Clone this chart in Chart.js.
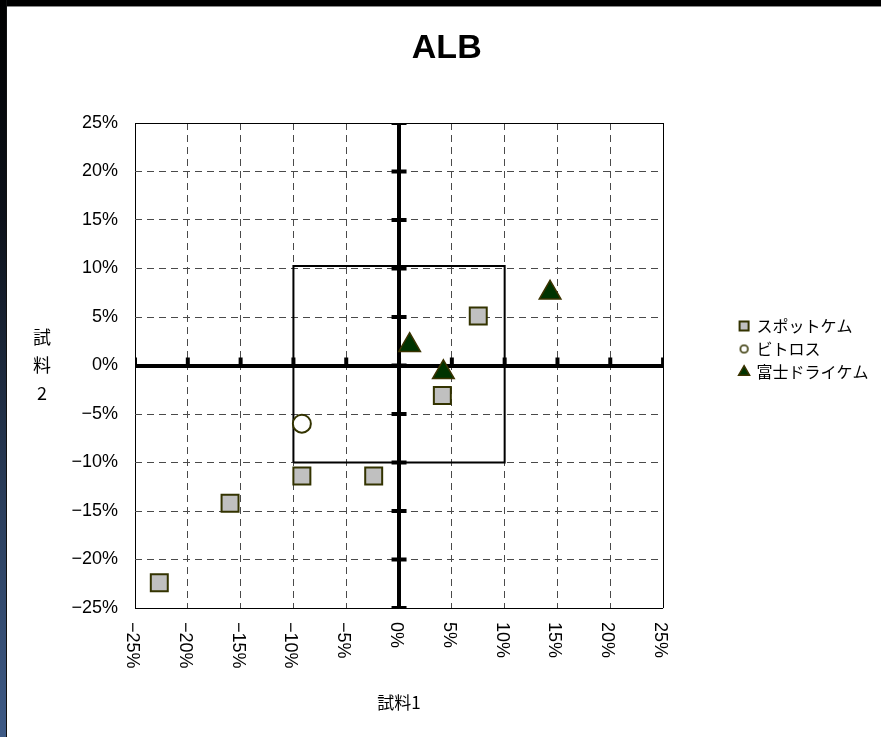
<!DOCTYPE html>
<html><head><meta charset="utf-8">
<script src="https://cdn.jsdelivr.net/npm/chart.js@4"></script>
<style>
html,body{margin:0;padding:0;background:#fff;}
#wrap{position:relative;width:881px;height:737px;overflow:hidden;background:#fff;}
#c{position:absolute;left:0;top:0;}
#topbar{position:absolute;left:0;top:0;width:881px;height:6px;background:#000;border-bottom:1px solid #8a8a8a;}
#leftbar{position:absolute;left:0;top:0;width:6px;height:737px;background:linear-gradient(#000 0%,#0d121b 30%,#2b3f5e 70%,#3e5a86 100%);border-right:1px solid #111;}
</style></head>
<body><div id="wrap"><canvas id="c" width="881" height="737"></canvas><div id="topbar"></div><div id="leftbar"></div></div>
<script>
// ---- data ----
const chartTitle = 'ALB';
const seriesNames = ['スポットケム', 'ビトロス', '富士ドライケム'];
const spotX = [7.5, 4.1, -9.2, -2.4, -16.0, -22.7];
const spotY = [5.1, -3.1, -11.4, -11.4, -14.2, -22.4];
const vitrosX = [-9.2];
const vitrosY = [-6.0];
const fujiX = [1.0, 4.2, 14.3];
const fujiY = [2.1, -0.7, 7.5];
const tickValues = [-25, -20, -15, -10, -5, 0, 5, 10, 15, 20, 25];
const tickLabels = ['−25%', '−20%', '−15%', '−10%', '−5%', '0%', '5%', '10%', '15%', '20%', '25%'];
const boxX = [-10, 10, 10, -10, -10];
const boxY = [-10, -10, 10.25, 10.25, -10];
const xTitle = '試料1';
const yTitleLines = ['試', '料', '2'];

// ---- styling / layout ----
const JP = '"Noto Sans CJK JP", "Liberation Sans", sans-serif';
const LAT = '"Liberation Sans", "Noto Sans CJK JP", sans-serif';
const tickFontSize = 18;
const legendFontSize = 16;
const legendBox = 9;
const legendPad = 7;
const area = {left: 135, right: 663, top: 123, bottom: 608};
const padLeft = 18;
const legendLeft = 729.5;
const legendFirstRowTop = 318;
const legendWidthCorr = 3;

const pts = (xs, ys) => xs.map((x, i) => ({x, y: ys[i]}));

// measure legend width like Chart.js does, to place it
const mctx = document.createElement('canvas').getContext('2d');
mctx.font = legendFontSize + 'px ' + JP;
const maxText = Math.max(...seriesNames.map(s => mctx.measureText(s).width));
const legendW = legendPad + legendBox + legendFontSize / 2 + maxText + 10;
const padRight = Math.max(0, 881 - legendLeft - legendW);
const gapAxisW = (881 - padRight - legendW + legendWidthCorr) - area.right;
const legendTitleFont = 10;
const legendTitlePadTop = legendFirstRowTop - legendPad - legendTitleFont * 1.2;

// small legend circle marker
const legendCircle = document.createElement('canvas');
legendCircle.width = 11; legendCircle.height = 11;
(() => {
  const c = legendCircle.getContext('2d');
  c.beginPath(); c.arc(5.5, 5.5, 3.8, 0, Math.PI * 2);
  c.fillStyle = '#fff'; c.fill();
  c.lineWidth = 1.6; c.strokeStyle = '#333300'; c.stroke();
})();

const isEdge = v => v === 0 || Math.abs(v) === 25;
const gridCommon = {
  color: c => (c.tick && isEdge(c.tick.value)) ? '#000' : '#4a4a4a',
  lineWidth: c => (c.tick && c.tick.value === 0) ? 4 : 1,
  drawTicks: false
};
const borderCommon = {
  display: false,
  dash: c => (c.tick && isEdge(c.tick.value)) ? [] : [7, 5]
};

const extraText = {
  id: 'extraText',
  afterDraw(chart) {
    const {ctx, chartArea, scales} = chart;
    ctx.save();
    ctx.fillStyle = '#000';
    ctx.font = tickFontSize + 'px ' + LAT;
    const xs = scales.x;
    xs.ticks.forEach((t, i) => {
      const px = xs.getPixelForValue(t.value);
      ctx.save();
      ctx.translate(px - 3, chartArea.bottom + 14);
      ctx.rotate(Math.PI / 2);
      ctx.textAlign = 'left';
      ctx.textBaseline = 'middle';
      ctx.fillText(tickLabels[i], 0, 0);
      ctx.restore();
    });
    const cy = (chartArea.top + chartArea.bottom) / 2;
    ctx.font = '18px ' + JP;
    ctx.textAlign = 'center';
    ctx.textBaseline = 'middle';
    yTitleLines.forEach((s, i) => ctx.fillText(s, 42, cy + (i - 1) * 28));
    ctx.restore();
  }
};

new Chart(document.getElementById('c'), {
  type: 'scatter',
  data: {
    datasets: [
      {label: seriesNames[0], data: pts(spotX, spotY), pointStyle: 'rect', pointRadius: 12, pointHoverRadius: 12,
       backgroundColor: '#c0c0c0', borderColor: '#333300', borderWidth: 2, order: 0},
      {label: seriesNames[1], data: pts(vitrosX, vitrosY), pointStyle: 'circle', pointRadius: 9, pointHoverRadius: 9,
       backgroundColor: '#ffffff', borderColor: '#333300', borderWidth: 2, order: 1},
      {label: seriesNames[2], data: pts(fujiX, fujiY), pointStyle: 'triangle', pointRadius: 12.5, pointHoverRadius: 12.5,
       backgroundColor: '#003300', borderColor: '#3a3300', borderWidth: 1.5, order: 2},
      {label: 'box', data: pts(boxX, boxY), showLine: true, pointRadius: 0, borderColor: '#000', borderWidth: 2,
       fill: false, tension: 0, order: 5},
      {label: 'yticks', data: tickValues.map(v => ({x: 0, y: v})), pointStyle: 'line', pointRadius: 7.5,
       borderColor: '#000', backgroundColor: '#000', borderWidth: 4, order: 8},
      {label: 'xticks', data: tickValues.map(v => ({x: v, y: 0})), pointStyle: 'dash', rotation: -90, pointRadius: 8,
       borderColor: '#000', backgroundColor: '#000', borderWidth: 4, order: 9}
    ]
  },
  options: {
    responsive: false,
    animation: false,
    devicePixelRatio: 1,
    events: [],
    layout: {padding: {left: padLeft, top: 0, bottom: 0, right: padRight}},
    scales: {
      x: {
        type: 'linear', min: -25, max: 25,
        afterBuildTicks: s => { s.ticks = tickValues.map(v => ({value: v})); },
        afterFit: s => { s.height = 737 - area.bottom; },
        ticks: {display: false},
        grid: gridCommon,
        border: borderCommon,
        title: {display: true, text: xTitle, color: '#000', font: {family: JP, size: 17}, padding: {top: 0, bottom: 24}}
      },
      y: {
        type: 'linear', min: -25, max: 25,
        afterBuildTicks: s => { s.ticks = tickValues.map(v => ({value: v})); },
        afterFit: s => { s.width = area.left - padLeft; },
        ticks: {color: '#000', font: {family: LAT, size: tickFontSize}, padding: 17,
                callback: (v, i) => tickLabels[i]},
        grid: gridCommon,
        border: borderCommon
      },
      gap: {
        type: 'linear', position: 'right', min: 0, max: 1, display: true,
        afterFit: s => { s.width = gapAxisW; },
        ticks: {display: false}, grid: {display: false, drawOnChartArea: false}, border: {display: false}
      }
    },
    plugins: {
      tooltip: {enabled: false},
      title: {display: true, text: chartTitle, color: '#000',
              font: {family: LAT, size: 34, weight: 'bold'}, padding: {top: 28, bottom: 54.2}},
      legend: {
        position: 'right', align: 'start',
        title: {display: true, text: '', font: {size: legendTitleFont}, padding: {top: legendTitlePadTop, bottom: 0}},
        labels: {
          usePointStyle: true, boxWidth: legendBox, boxHeight: legendBox, padding: legendPad,
          color: '#000', font: {family: JP, size: legendFontSize},
          filter: item => item.datasetIndex <= 2,
          generateLabels: chart => {
            const items = Chart.defaults.plugins.legend.labels.generateLabels(chart);
            items.forEach(it => { if (it.datasetIndex === 1) it.pointStyle = legendCircle; });
            return items;
          }
        }
      }
    }
  },
  plugins: [extraText]
});
</script>
</body></html>
